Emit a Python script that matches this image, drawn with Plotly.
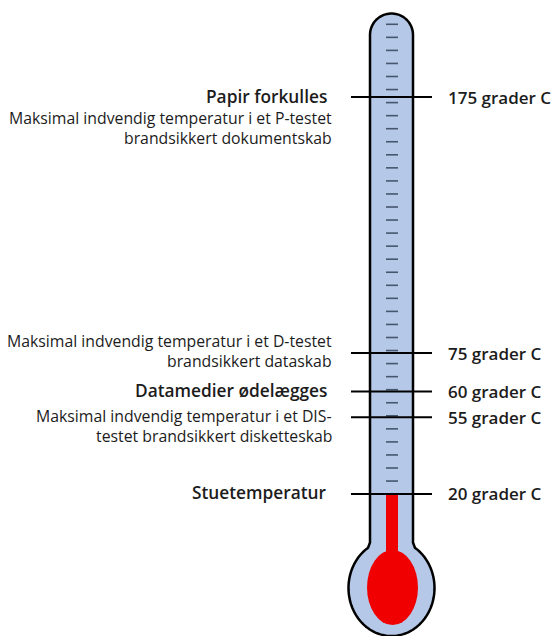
import numpy as np
import plotly.graph_objects as go

# ---- data ----
temps = [175, 75, 60, 55, 20]
temp_labels = ["175 grader C", "75 grader C", "60 grader C", "55 grader C", "20 grader C"]
titles = ["Papir forkulles", "", "Datamedier ødelægges", "", "Stuetemperatur"]
notes = [
    ["Maksimal indvendig temperatur i et P-testet", "brandsikkert dokumentskab"],
    ["Maksimal indvendig temperatur i et D-testet", "brandsikkert dataskab"],
    [],
    ["Maksimal indvendig temperatur i et DIS-", "testet brandsikkert disketteskab"],
    [],
]
room_temp = 20

# ---- layout / style ----
W, H = 551, 636
Y_TOP, Y_BOT = 212.9, -35.5          # degree range of the plot height
nudge_px = [0, 0, 0, -13, 0]          # label spacing nudges (pixels)
note_start = [1.05, -0.6, 0, -0.05, 0]   # first note line, in line units from the marker
LINE_H = 20

FILL = "#b5c8e7"
RED = "#f00000"
INK = "#1c1c1c"
FONT = "Open Sans"

def px_to_deg(py):
    return Y_TOP - py / H * (Y_TOP - Y_BOT)

shapes = []
annotations = []

# thermometer outline (pixel coordinates on x / y2)
cx, r = 391.5, 21.5
top_c = 35.0
bx, by, brx, bry = 391.5, 588.0, 43.0, 48.0
t_join = np.degrees(np.arccos(r / brx))
y_join = by - bry * np.sin(np.radians(t_join))
pts = [(cx - r, y_join - 4), (cx - r, top_c)]
for a in np.linspace(180, 0, 40):
    pts.append((cx + r * np.cos(np.radians(a)), top_c - r * np.sin(np.radians(a))))
pts.append((cx + r, y_join - 4))
for a in np.linspace(t_join - 3, -180 - t_join + 3, 120):
    pts.append((bx + brx * np.cos(np.radians(a)), by - bry * np.sin(np.radians(a))))
path = "M " + " L ".join(f"{x:.2f},{y:.2f}" for x, y in pts) + " Z"
shapes.append(dict(type="path", path=path, xref="x", yref="y2",
                   fillcolor=FILL, line=dict(color="black", width=2.5), layer="above"))

# scale dashes inside the tube
for k in range(36):
    yy = 24.3 + 13.05 * k
    shapes.append(dict(type="line", xref="x", yref="y2", x0=386, x1=398, y0=yy, y1=yy,
                       line=dict(color="#46566c", width=1.6), layer="above"))

# mercury
shapes.append(dict(type="rect", xref="x", yref="y", x0=386, x1=398,
                   y0=room_temp, y1=px_to_deg(by), fillcolor=RED, line=dict(width=0), layer="above"))
shapes.append(dict(type="circle", xref="x", yref="y2", x0=367, x1=418, y0=550, y1=625,
                   fillcolor=RED, line=dict(width=0), layer="above"))

# marker lines and labels
for t, lab, ttl, note, nd, ns in zip(temps, temp_labels, titles, notes, nudge_px, note_start):
    shapes.append(dict(type="line", xref="x", yref="y", x0=351, x1=432,
                       ysizemode="pixel", yanchor=t, y0=nd, y1=nd,
                       line=dict(color="black", width=2), layer="above"))
    annotations.append(dict(x=446, y=t, xref="x", yref="y", text=lab, showarrow=False,
                            xanchor="left", yanchor="middle", yshift=nd,
                            font=dict(family=FONT, size=17, color=INK, weight=600)))
    if ttl:
        annotations.append(dict(x=329, y=t, xref="x", yref="y", text=ttl, showarrow=False,
                                xanchor="right", yanchor="middle", yshift=nd + 1,
                                font=dict(family=FONT, size=17.3, color=INK, weight=600)))
    for i, line in enumerate(note):
        annotations.append(dict(x=334, y=t, xref="x", yref="y", text=line, showarrow=False,
                                xanchor="right", yanchor="middle",
                                yshift=nd - (ns + i) * LINE_H,
                                font=dict(family=FONT, size=15.8, color=INK)))

fig = go.Figure()
fig.add_trace(go.Scatter(x=[None], y=[None], showlegend=False, hoverinfo="skip"))
fig.add_trace(go.Scatter(x=[None], y=[None], yaxis="y2", showlegend=False, hoverinfo="skip"))
fig.update_layout(
    width=W, height=H, margin=dict(l=0, r=0, t=0, b=0),
    paper_bgcolor="white", plot_bgcolor="white", showlegend=False,
    xaxis=dict(range=[0, W], visible=False, fixedrange=True),
    yaxis=dict(range=[Y_BOT, Y_TOP], visible=False, fixedrange=True),
    yaxis2=dict(range=[H, 0], visible=False, overlaying="y", fixedrange=True),
    shapes=shapes, annotations=annotations,
)
fig.write_html("out.html", config={"displayModeBar": False},
               post_script="document.body.style.margin='0';document.body.style.overflow='hidden';")
